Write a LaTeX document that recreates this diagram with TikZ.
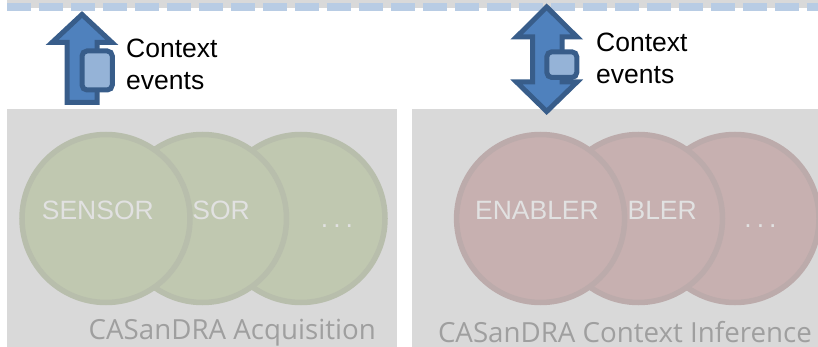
\documentclass[tikz,border=0pt]{standalone}
\usepackage{fontspec}
\setmainfont{Liberation Sans}
\newfontfamily\labfont{Open Sans}
\definecolor{panelgray}{HTML}{D9D9D9}
\definecolor{dashblue}{HTML}{B8CCE4}
\definecolor{arrowfill}{HTML}{4F81BD}
\definecolor{arrowline}{HTML}{385D8A}
\definecolor{boxfill}{HTML}{95B3D7}
\definecolor{greenfill}{HTML}{C0C8B0}
\definecolor{greenline}{HTML}{B8BEAC}
\definecolor{redfill}{HTML}{C7B0B0}
\definecolor{redline}{HTML}{BCABAB}
\definecolor{labgray}{HTML}{9F9F9F}
\definecolor{blobtxt}{HTML}{E1E1E1}
\tikzset{
  panel/.style={fill=panelgray,draw=none},
  blob/.style={circle,minimum size=168pt,inner sep=0pt,outer sep=0pt,line width=5.5pt},
  gblob/.style={blob,draw=greenline,fill=greenfill},
  rblob/.style={blob,draw=redline,fill=redfill},
  blobtext/.style={text=blobtxt,font=\fontsize{26.5}{30}\selectfont,inner sep=0pt},
  arrowshape/.style={fill=arrowfill,draw=arrowline,line width=5pt,miter limit=10},
  mini/.style={fill=boxfill,draw=arrowline,line width=5pt,rounded corners=5pt},
  evt/.style={align=left,font=\fontsize{26.5}{32}\selectfont,inner sep=0pt,anchor=west},
  lab/.style={text=labgray,font=\labfont\fontsize{27.7}{32}\selectfont,inner sep=0pt,anchor=base east}
}
\begin{document}
\begin{tikzpicture}[x=1pt,y=-1pt]
\useasboundingbox (0,0) rectangle (818,347);
% top band
\fill[panelgray] (7,0) rectangle (818,8);
\draw[dashblue,line width=8pt,dash pattern=on 24pt off 8pt] (7,7) -- (818,7);
% panels
\fill[panel] (7,109) rectangle (397,347);
\fill[panel] (412,109) rectangle (818,347);
% circles left
\node[gblob] (g3) at (301,218.5) {};
\node[gblob] (g2) at (202.5,218.5) {};
\node[gblob] (g1) at (106,218.5) {};
\node[blobtext,anchor=base east] (s1) at (154,219) {SENSOR};
\node[blobtext,anchor=base east] (s2) at (250,219) {SOR};
\node[blobtext,anchor=base] (s3) at (337,227) {.\kern5pt.\kern5pt.};
% circles right
\begin{scope}
\clip (0,0) rectangle (818,347);
\node[rblob] (r3) at (735,218.5) {};
\node[rblob] (r2) at (638.5,218.5) {};
\node[rblob] (r1) at (540.6,218.5) {};
\end{scope}
\node[blobtext,anchor=base east] (e1) at (599,219) {ENABLER};
\node[blobtext,anchor=base east] (e2) at (697,219) {BLER};
\node[blobtext,anchor=base] (e3) at (760.5,227) {.\kern5pt.\kern5pt.};
% arrows
\draw[arrowshape] (82,14.5) -- (112,42.5) -- (97,42.5) -- (97,102.5) -- (67,102.5) -- (67,42.5) -- (52,42.5) -- cycle;
\draw[mini] (82,51) rectangle (112.3,90);
\draw[arrowshape] (546.7,7) -- (577,37) -- (562,37) -- (562,82) -- (577,82) -- (546.7,111.5) -- (516.5,82) -- (532.5,82) -- (532.5,37) -- (516.5,37) -- cycle;
\draw[mini] (546.8,51.8) rectangle (576.8,77.5);
% texts
\node[evt] (t1) at (126,64) {Context\\events};
\node[evt] (t2) at (596,58) {Context\\events};
\node[lab] (l1) at (376,339) {CASanDRA Acquisition};
\node[lab] (l2) at (812,342) {CASanDRA Context Inference};
\end{tikzpicture}
\end{document}
